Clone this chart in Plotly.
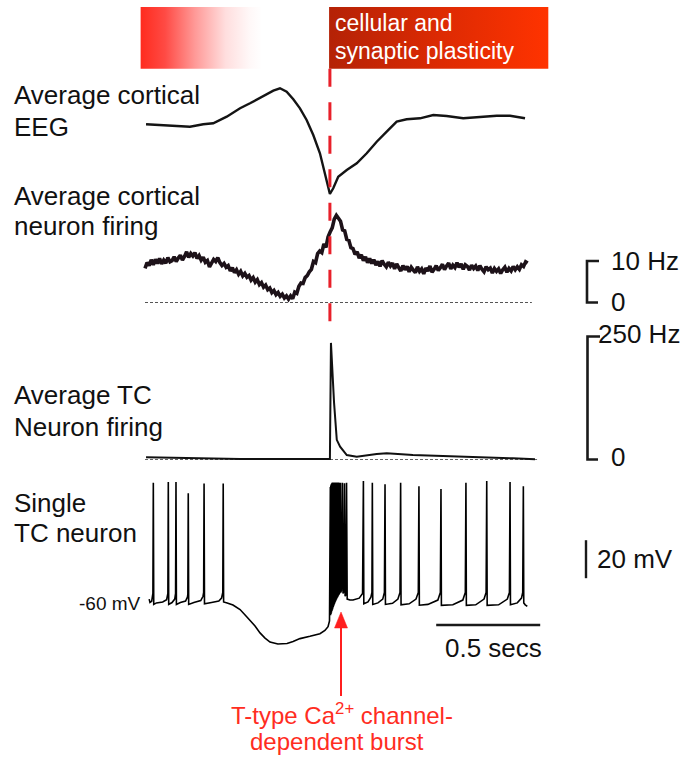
import plotly.graph_objects as go

W, H = 695, 758
FONT = "Liberation Sans, Arial, Helvetica, sans-serif"

# ---------------- data (time in s, 0 = start of recorded traces) ----------------
# Average cortical EEG (arbitrary units, positive = up)
eeg_t = [0.005, 0.088, 0.168, 0.216, 0.280, 0.328, 0.393, 0.457, 0.505, 0.569,
         0.617, 0.649, 0.681, 0.713, 0.745, 0.777, 0.809, 0.841, 0.865, 0.889,
         0.905, 0.929, 0.970, 1.018, 1.066, 1.114, 1.162, 1.210, 1.258, 1.322,
         1.386, 1.450, 1.530, 1.611, 1.691, 1.755, 1.827]
eeg_v = [-0.3, -1.0, -2.0, -2.7, -0.3, 0.7, 7.3, 15.7, 20.7, 28.0,
         33.3, 35.7, 32.3, 24.7, 15.7, 4.0, -11.0, -29.3, -49.3, -70.0,
         -64.3, -52.7, -46.0, -39.3, -29.3, -17.7, -7.7, 2.3, 4.7, 5.7,
         9.0, 8.0, 5.7, 7.3, 8.3, 8.3, 5.7]

# Average cortical neuron firing (Hz), sampled every 10 ms
cx_dt = 0.01
cx_rate = [
    8.2, 9.6, 8.9, 10.3, 9.1, 10.4, 9.4, 10.6, 9.3, 10.2,
    9.5, 10.8, 9.8, 10.1, 11.0, 9.9, 10.7, 11.4, 10.2, 11.1,
    12.2, 10.9, 11.8, 11.2, 12.0, 10.6, 11.3, 10.2, 10.9, 9.7,
    10.1, 8.6, 9.5, 10.4, 9.9, 10.8, 9.6, 8.9, 9.4, 8.5,
    8.9, 7.6, 8.4, 7.2, 7.9, 6.8, 7.5, 6.4, 7.0, 6.1,
    6.5, 5.4, 6.0, 4.9, 5.5, 4.3, 4.8, 3.7, 4.2, 3.1,
    3.5, 2.4, 2.9, 1.9, 2.4, 1.5, 2.0, 1.1, 1.6, 0.8,
    1.6, 0.9, 2.5, 2.2, 3.9, 4.7, 4.6, 6.0, 6.5, 7.4,
    8.0, 9.9, 9.6, 11.8, 12.4, 12.0, 14.1, 13.3, 15.8, 17.0,
    18.0, 20.1, 21.0, 20.3, 19.6, 17.5, 17.3, 15.2, 15.0, 13.2,
    13.0, 11.6, 12.2, 10.7, 11.5, 10.1, 11.0, 9.6, 10.6, 9.4,
    10.3, 9.0, 9.9, 8.7, 10.1, 9.2, 8.6, 9.7, 8.8, 9.5,
    8.1, 9.3, 8.4, 7.6, 8.9, 7.9, 8.7, 7.4, 8.5, 7.8,
    7.2, 8.6, 7.5, 8.1, 6.9, 8.3, 7.6, 8.8, 7.3, 8.0,
    8.9, 7.7, 8.4, 9.2, 7.9, 8.8, 9.5, 8.1, 9.0, 8.4,
    9.6, 8.5, 9.3, 8.0, 9.1, 8.7, 7.8, 9.0, 8.2, 8.8,
    7.7, 8.9, 8.0, 7.4, 8.6, 7.9, 8.3, 7.1, 8.2, 7.5,
    8.1, 7.0, 7.9, 8.5, 7.3, 8.2, 7.6, 8.7, 7.9, 8.6,
    8.0, 9.1, 8.7, 9.8, 9.5]
cx_t = [i * cx_dt for i in range(len(cx_rate))]

# Average TC neuron firing (Hz)
tcpop_t = [0.005, 0.168, 0.457, 0.745, 0.885, 0.889, 0.894, 0.909, 0.922, 0.938,
           0.970, 1.018, 1.114, 1.162, 1.288, 1.450, 1.625, 1.769, 1.875]
tcpop_rate = [4.5, 3.0, 1.0, 1.0, 1.0, 1.0, 237, 115, 40, 26,
              9, 5.7, 11, 12.6, 9.1, 7.1, 5.7, 2.4, 0.4]

# Single TC neuron membrane potential (s, mV)
neuron = [
    (0.020, -59.0), (0.024, -60.8), (0.032, -60.2), (0.038, -56.0), (0.040, 2.3), (0.042, -61.8),
    (0.055, -61.0), (0.085, -60.5), (0.104, -59.3), (0.110, -56.0), (0.112, 2.6), (0.114, -61.8),
    (0.130, -60.8), (0.143, -59.0), (0.147, -56.0), (0.149, 2.6), (0.151, -61.8),
    (0.170, -60.8), (0.195, -60.0), (0.204, -58.0), (0.206, -56.5), (0.208, -3.3), (0.210, -61.8),
    (0.235, -60.8), (0.268, -59.8), (0.279, -57.5), (0.282, -55.5), (0.284, 1.9), (0.286, -61.5),
    (0.320, -60.8), (0.355, -60.0), (0.368, -58.5), (0.374, -55.5), (0.376, 1.9), (0.378, -60.5),
    (0.395, -61.0), (0.423, -62.1), (0.457, -64.5), (0.490, -68.4), (0.529, -73.2), (0.553, -76.8),
    (0.577, -79.5), (0.601, -81.6), (0.639, -82.6), (0.683, -82.4), (0.712, -81.3), (0.745, -79.8),
    (0.793, -78.6), (0.841, -77.2), (0.865, -75.5), (0.880, -73.5), (0.887, -70.5),
    # T-type Ca2+ dependent burst
    (0.8910, 0.0), (0.8921, -67.5), (0.8932, 0.8), (0.8943, -66.8), (0.8954, 1.4), (0.8965, -66.0),
    (0.8976, 1.9), (0.8987, -65.3), (0.8998, 2.2), (0.9009, -64.6), (0.9020, 2.4), (0.9031, -63.9),
    (0.9042, 2.4), (0.9053, -63.2), (0.9064, 2.4), (0.9075, -62.5), (0.9086, 2.4), (0.9097, -61.9),
    (0.9108, 2.4), (0.9119, -61.3), (0.9130, 2.4), (0.9141, -60.7), (0.9152, 2.4), (0.9163, -60.1),
    (0.9174, 2.4), (0.9185, -59.6), (0.9196, 2.4), (0.9207, -59.1), (0.9218, 2.4), (0.9229, -58.6),
    (0.9240, 2.4), (0.9251, -58.1), (0.9262, 2.4), (0.9273, -57.7), (0.9284, 2.4), (0.9295, -57.3),
    (0.9306, 2.4), (0.9317, -56.9), (0.9328, 2.3), (0.9339, -56.5), (0.9350, 2.3), (0.9361, -56.1),
    (0.9372, 2.2), (0.9383, -55.7), (0.9394, 2.2), (0.9410, -55.5),
    (0.944, -54.5), (0.949, 2.2), (0.952, -56.0), (0.956, -55.0), (0.959, 2.0), (0.962, -57.5),
    (0.966, -56.5), (0.969, 2.2), (0.972, -59.0), (0.985, -59.5),
    # tonic firing after the burst
    (1.000, -59.5), (1.030, -58.5), (1.046, -56.0), (1.050, 3.1), (1.052, -61.5),
    (1.072, -60.5), (1.086, -58.0), (1.091, -55.5), (1.093, 2.3), (1.095, -61.8),
    (1.120, -61.0), (1.143, -59.0), (1.151, -55.5), (1.154, 1.5), (1.156, -61.8),
    (1.190, -61.2), (1.216, -59.0), (1.226, -55.5), (1.229, 2.3), (1.231, -62.0),
    (1.270, -61.5), (1.303, -59.0), (1.314, -55.5), (1.317, 0.4), (1.319, -62.2),
    (1.360, -61.8), (1.408, -59.5), (1.420, -55.5), (1.423, -1.0), (1.425, -62.3),
    (1.480, -62.0), (1.528, -59.5), (1.540, -55.5), (1.543, 2.3), (1.545, -62.3),
    (1.590, -62.0), (1.630, -59.0), (1.640, -55.5), (1.643, 3.1), (1.645, -62.3),
    (1.700, -62.0), (1.742, -59.0), (1.752, -55.5), (1.755, 2.6), (1.757, -62.0),
    (1.790, -61.0), (1.810, -58.5), (1.816, -55.5), (1.819, 0.4), (1.821, -61.0),
    (1.828, -62.0), (1.838, -62.8)]
neuron_t = [p[0] for p in neuron]
neuron_v = [p[1] for p in neuron]

burst_onset = 0.889            # s, dashed marker
phase_pre = (-0.021, 0.5625)   # s, fading red bar
phase_post = (0.885, 1.939)    # s, plasticity bar
zero_line_cx = (0.0, 1.86)
zero_line_tc = (0.0, 1.885)
scale_cx_hz = 10
scale_tc_hz = 250
scale_mv = 20
scale_s = 0.5
scale_s_start = 1.40

# ---------------- layout helpers ----------------
PX_PER_S = 208.0
T0_PX = 145.0


def ppx(p):
    return p / W


def ppy(p):
    return 1 - p / H


def ycal(top, bottom, ref_px, ref_val, ppu):
    return dict(domain=[ppy(bottom), ppy(top)],
                range=[ref_val - (bottom - ref_px) / ppu, ref_val + (ref_px - top) / ppu],
                visible=False, showgrid=False, zeroline=False, anchor="x", fixedrange=True)


fig = go.Figure()

# top phase bars (gradient fills)
yb, yt = ppy(68.7), ppy(7)
fig.add_trace(go.Scatter(
    x=[phase_pre[0], phase_pre[1], phase_pre[1], phase_pre[0], phase_pre[0]],
    y=[yb, yb, yt, yt, yb], yaxis="y5", mode="lines", line=dict(width=0),
    fill="toself",
    fillgradient=dict(type="horizontal", start=phase_pre[0], stop=phase_pre[1],
                      colorscale=[[0, "#ff2b1e"], [0.2, "#ff4a44"], [0.45, "#ff9a98"],
                                  [0.7, "#ffdede"], [0.9, "#fff8f8"], [1, "#ffffff"]]),
    hoverinfo="skip", showlegend=False))
fig.add_trace(go.Scatter(
    x=[phase_post[0], phase_post[1], phase_post[1], phase_post[0], phase_post[0]],
    y=[yb, yb, yt, yt, yb], yaxis="y5", mode="lines", line=dict(width=0),
    fill="toself",
    fillgradient=dict(type="horizontal", start=phase_post[0], stop=phase_post[1],
                      colorscale=[[0, "#b42206"], [0.5, "#dc2a03"], [1, "#ff3300"]]),
    hoverinfo="skip", showlegend=False))

# EEG
fig.add_trace(go.Scatter(x=eeg_t, y=eeg_v, yaxis="y", mode="lines",
                         line=dict(color="#141414", width=2.4), hoverinfo="skip", showlegend=False))
# cortical firing
fig.add_trace(go.Scatter(x=list(zero_line_cx), y=[0, 0], yaxis="y2", mode="lines",
                         line=dict(color="#555555", width=1, dash="3px,2px"), hoverinfo="skip", showlegend=False))
fig.add_trace(go.Scatter(x=cx_t, y=cx_rate, yaxis="y2", mode="lines",
                         line=dict(color="#1d1219", width=3.6, simplify=False),
                         hoverinfo="skip", showlegend=False))
# TC population firing
fig.add_trace(go.Scatter(x=list(zero_line_tc), y=[0, 0], yaxis="y3", mode="lines",
                         line=dict(color="#666666", width=1, dash="3px,2px"), hoverinfo="skip", showlegend=False))
fig.add_trace(go.Scatter(x=tcpop_t, y=tcpop_rate, yaxis="y3", mode="lines",
                         line=dict(color="#111111", width=2), hoverinfo="skip", showlegend=False))
# single TC neuron
fig.add_trace(go.Scatter(x=neuron_t, y=neuron_v, yaxis="y4", mode="lines",
                         line=dict(color="#000000", width=1.6, simplify=False),
                         hoverinfo="skip", showlegend=False))

ARROW_RED = "#ff1f1f"
shapes = [
    # burst onset dashed marker
    dict(type="line", xref="x", yref="paper", x0=burst_onset, x1=burst_onset,
         y0=ppy(68.7), y1=ppy(335), line=dict(color="#e8202a", width=3, dash="18px,15.5px")),
    # 10 Hz bracket
    dict(type="path", xref="paper", yref="y2",
         path=f"M{ppx(599)},{scale_cx_hz} L{ppx(587)},{scale_cx_hz} L{ppx(587)},0 L{ppx(598)},0",
         line=dict(color="#1a1a1a", width=2.6)),
    # 250 Hz bracket
    dict(type="path", xref="paper", yref="y3",
         path=f"M{ppx(600)},{scale_tc_hz} L{ppx(587.5)},{scale_tc_hz} L{ppx(587.5)},0 L{ppx(598)},0",
         line=dict(color="#1a1a1a", width=2.6)),
    # 20 mV bar
    dict(type="line", xref="paper", yref="y4", x0=ppx(586), x1=ppx(586),
         y0=-48, y1=-48 + scale_mv, line=dict(color="#1a1a1a", width=2.4)),
    # 0.5 s bar
    dict(type="line", xref="x", yref="paper", x0=scale_s_start, x1=scale_s_start + scale_s,
         y0=ppy(625), y1=ppy(625), line=dict(color="#1a1a1a", width=2.6)),
    # arrow pointing to the burst
    dict(type="line", xref="paper", yref="paper", x0=ppx(341), x1=ppx(341),
         y0=ppy(696), y1=ppy(624), line=dict(color=ARROW_RED, width=2)),
    dict(type="path", xref="paper", yref="paper",
         path=f"M{ppx(341)},{ppy(612)} L{ppx(334.5)},{ppy(628)} L{ppx(347.5)},{ppy(628)} Z",
         fillcolor=ARROW_RED, line=dict(color=ARROW_RED, width=0.5)),
]


def label(text, x, y, size, color="#111111", xanchor="left"):
    return dict(text=text, x=ppx(x), y=ppy(y), xref="paper", yref="paper",
                xanchor=xanchor, yanchor="middle", showarrow=False,
                font=dict(size=size, color=color, family=FONT))


annotations = [
    label("Average cortical", 12, 95, 26),
    label("EEG", 12, 126.7, 26),
    label("Average cortical", 12, 195.5, 26),
    label("neuron firing", 12, 226.5, 26),
    label("Average TC", 12, 395, 26),
    label("Neuron firing", 12, 426.7, 26),
    label("Single", 12, 502.5, 26),
    label("TC neuron", 12, 533.3, 26),
    label("cellular and", 333, 23, 23, color="#ffffff"),
    label("synaptic plasticity", 333, 50.5, 23, color="#ffffff"),
    label("-60 mV", 143, 603, 19, xanchor="right"),
    label("10 Hz", 609, 260.7, 26),
    label("0", 609, 301.7, 26),
    label("250 Hz", 596, 334, 26),
    label("0", 609, 457, 26),
    label("20 mV", 595, 559, 26),
    label("0.5 secs", 493.3, 647.5, 26, xanchor="center"),
    label("T-type Ca<sup>2+</sup> channel-", 341.7, 714, 24, color="#ff2d1f", xanchor="center"),
    label("dependent burst", 336.7, 741.7, 24, color="#ff2d1f", xanchor="center"),
]

fig.update_layout(
    width=W, height=H, margin=dict(l=0, r=0, t=0, b=0),
    paper_bgcolor="white", plot_bgcolor="rgba(0,0,0,0)",
    showlegend=False, hovermode=False,
    font=dict(family=FONT),
    xaxis=dict(domain=[0, 1], range=[-T0_PX / PX_PER_S, (W - T0_PX) / PX_PER_S],
               visible=False, showgrid=False, zeroline=False, anchor="y", fixedrange=True),
    yaxis=ycal(75, 205, 124, 0, 1.0),
    yaxis2=ycal(205, 312, 302.5, 0, 4.15),
    yaxis3=ycal(330, 466, 459.5, 0, 0.492),
    yaxis4=ycal(470, 655, 601, -60, 1.9),
    yaxis5=dict(domain=[0, 1], range=[0, 1], visible=False, anchor="x", fixedrange=True),
    shapes=shapes,
    annotations=annotations,
)

fig.write_html("out.html", config={"displayModeBar": False},
               post_script="document.body.style.margin='0';document.body.style.padding='0';"
                           "document.documentElement.style.overflow='hidden';")
